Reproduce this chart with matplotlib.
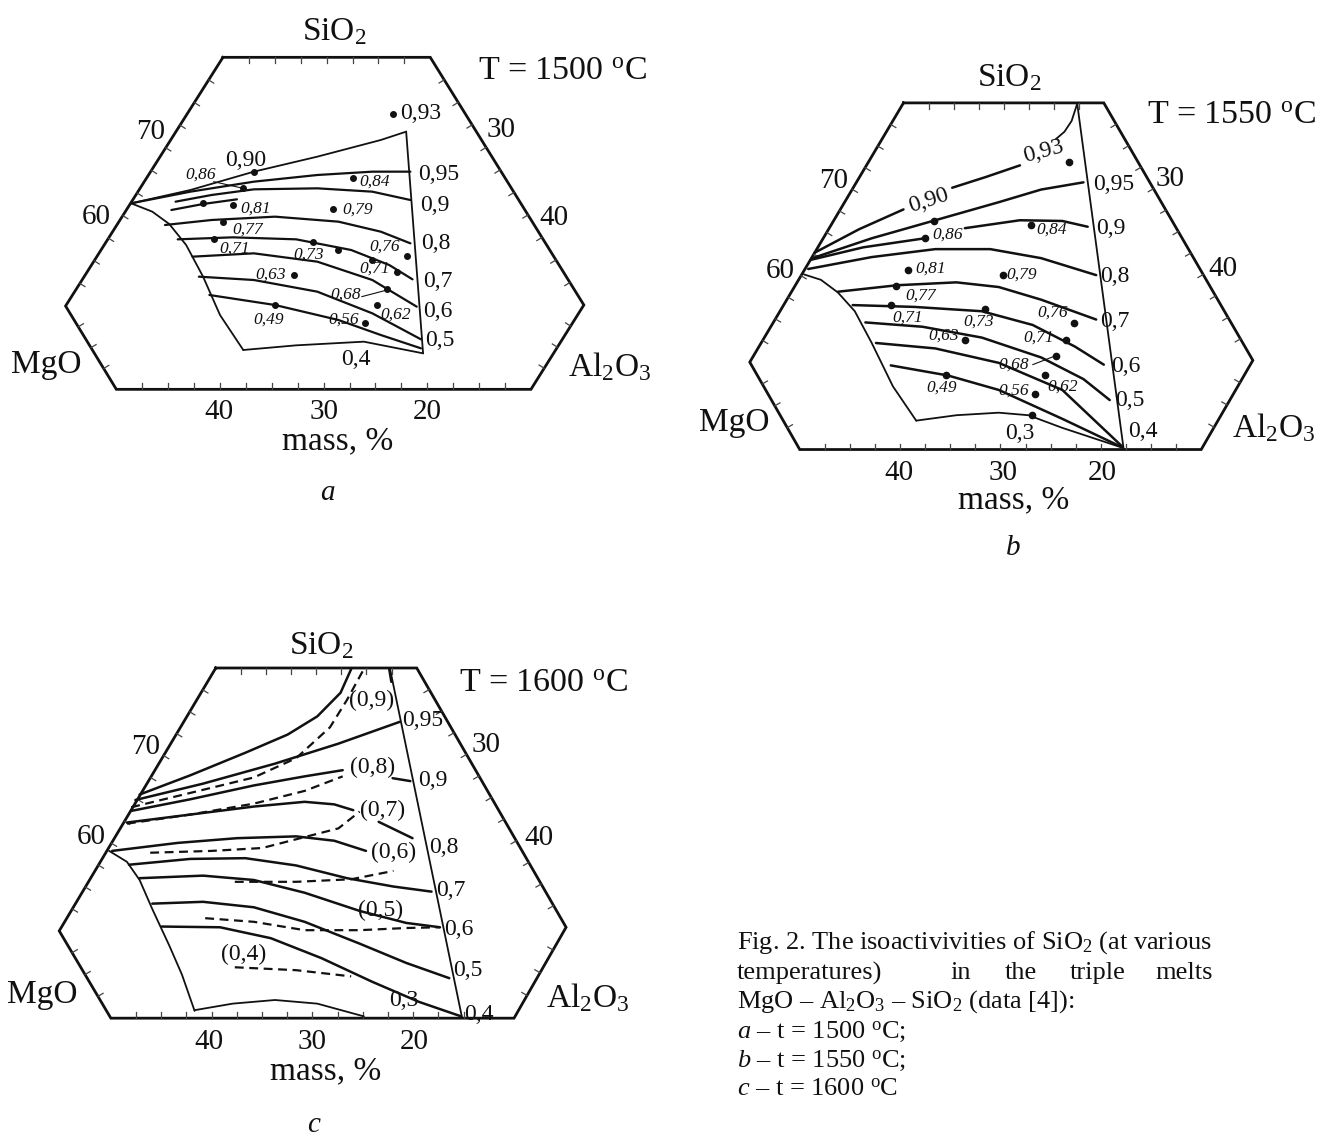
import numpy as np
import matplotlib
matplotlib.use("Agg")
import matplotlib.pyplot as plt

plt.rcParams['font.family'] = ['Liberation Serif', 'DejaVu Serif']
plt.rcParams['mathtext.fontset'] = 'custom'
plt.rcParams['mathtext.rm'] = 'Liberation Serif'
plt.rcParams['mathtext.it'] = 'Liberation Serif:italic'

DEG = r'$^{\mathrm{o}}$'

# ---------------- panel a (T = 1500) ----------------
A_HEX = [(527, 172), (1017, 172), (1380, 915), (1255, 1168), (275, 1168), (155, 918)]
A_FRAME = [
    [(310, 610), (450, 570), (600, 515), (750, 470), (900, 420), (960, 395)],
    [(960, 395), (1000, 1060)],
    [(310, 610), (360, 635), (400, 672), (440, 735), (480, 830), (520, 945), (575, 1050)],
    [(575, 1050), (700, 1036), (860, 1025), (1000, 1060)],
]
A_ISO = [
    [(310, 610), (450, 575), (600, 545), (750, 525), (880, 515), (970, 515)],
    [(415, 605), (500, 585), (600, 568), (750, 565), (880, 575), (970, 600)],
    [(405, 630), (480, 612), (560, 598)],
    [(390, 675), (500, 660), (650, 650), (800, 665), (900, 695), (970, 730)],
    [(420, 718), (550, 712), (700, 718), (830, 750), (920, 795), (975, 838)],
    [(455, 770), (600, 760), (750, 785), (880, 840), (985, 920)],
    [(470, 830), (600, 840), (750, 875), (880, 940), (995, 1018)],
    [(495, 885), (650, 915), (800, 960), (900, 1005), (995, 1045)],
]
A_LEAD = [[(505, 545), (575, 565)], [(855, 890), (915, 870)]]
A_DOTS_X = [930, 600, 575, 835, 550, 787, 528, 505, 740, 962, 938, 695, 915, 890, 650, 862, 480, 800, 880]
A_DOTS_Y = [342, 515, 565, 533, 615, 628, 665, 717, 725, 768, 815, 825, 868, 915, 915, 968, 610, 750, 780]
A_SMALL = [("0,86", 475, 525), ("0,84", 885, 545), ("0,81", 605, 625), ("0,79", 845, 628),
           ("0,77", 585, 688), ("0,71", 555, 745), ("0,73", 730, 765), ("0,76", 910, 740),
           ("0,71", 885, 805), ("0,63", 640, 825), ("0,68", 818, 885), ("0,62", 935, 945),
           ("0,49", 635, 960), ("0,56", 812, 960)]
A_VALUES = [("0,93", 995, 340, 0), ("0,90", 580, 480, 0), ("0,95", 1038, 522, 0), ("0,9", 1028, 617, 0),
            ("0,8", 1030, 730, 0), ("0,7", 1035, 845, 0), ("0,6", 1035, 935, 0),
            ("0,5", 1040, 1022, 0), ("0,4", 840, 1078, 0)]
A_TEXT = [("SiO$_2$", 790, 95, 24), ("T = 1500 " + DEG + "C", 1330, 215, 24.5),
          ("70", 355, 395, 21), ("60", 228, 650, 21), ("30", 1185, 390, 21), ("40", 1310, 655, 21),
          ("MgO", 110, 1095, 24), ("Al$_2$O$_3$", 1440, 1100, 24),
          ("40", 518, 1236, 21), ("30", 765, 1236, 21), ("20", 1010, 1236, 21),
          ("mass, %", 797, 1322, 24)]
A_LETTER = ("a", 775, 1500)

# ---------------- panel b (T = 1550) ----------------
B_HEX = [(575, 285), (1048, 285), (1400, 998), (1278, 1245), (330, 1245), (212, 1003)]
B_FRAME = [
    [(985, 285), (1095, 1245)],
    [(985, 288), (972, 335), (955, 365), (935, 385)],
    [(340, 760), (380, 775), (420, 810), (460, 862), (500, 950), (550, 1070), (605, 1165)],
    [(605, 1165), (700, 1150), (800, 1143), (870, 1150), (950, 1185), (1092, 1240)],
]
B_ISO = [
    [(365, 700), (470, 635), (575, 580)],
    [(690, 520), (770, 490), (850, 458)],
    [(360, 715), (500, 660), (650, 610), (800, 560), (900, 525), (1000, 505)],
    [(355, 720), (480, 685), (625, 660)],
    [(720, 632), (850, 610), (950, 612), (1010, 628)],
    [(350, 745), (500, 712), (650, 690), (780, 690), (900, 715), (1030, 762)],
    [(420, 808), (560, 790), (700, 782), (800, 795), (900, 830), (1030, 885)],
    [(455, 845), (600, 850), (760, 862), (880, 900), (980, 960), (1048, 1010)],
    [(485, 893), (620, 905), (760, 935), (900, 990), (1000, 1050), (1062, 1108)],
    [(510, 950), (650, 965), (800, 1005), (950, 1080), (1090, 1235)],
    [(545, 1012), (680, 1040), (800, 1080), (950, 1160), (1090, 1238)],
]
B_LEAD = [[(880, 1010), (935, 985)]]
B_DOTS_X = [965, 648, 625, 875, 585, 810, 557, 545, 767, 978, 958, 720, 935, 908, 675, 885, 878]
B_DOTS_Y = [448, 612, 660, 622, 748, 762, 792, 845, 855, 895, 942, 942, 985, 1040, 1040, 1090, 1150]
B_SMALL = [("0,86", 680, 650), ("0,84", 925, 635), ("0,81", 640, 745), ("0,79", 855, 762),
           ("0,77", 615, 820), ("0,71", 585, 880), ("0,73", 752, 892), ("0,76", 928, 865),
           ("0,71", 895, 935), ("0,63", 670, 930), ("0,68", 835, 1010), ("0,62", 950, 1070),
           ("0,49", 665, 1075), ("0,56", 835, 1082)]
B_VALUES = [("0,93", 905, 420, 15), ("0,90", 635, 555, 18), ("0,95", 1072, 510, 0), ("0,9", 1065, 632, 0),
            ("0,8", 1075, 765, 0), ("0,7", 1075, 890, 0), ("0,6", 1100, 1015, 0),
            ("0,5", 1110, 1110, 0), ("0,4", 1140, 1195, 0), ("0,3", 850, 1200, 0)]
B_TEXT = [("SiO$_2$", 825, 215, 24), ("T = 1550 " + DEG + "C", 1350, 320, 24.5),
          ("70", 410, 500, 21), ("60", 285, 750, 21), ("30", 1205, 495, 21), ("40", 1330, 745, 21),
          ("MgO", 175, 1170, 24), ("Al$_2$O$_3$", 1450, 1185, 24),
          ("40", 565, 1310, 21), ("30", 810, 1310, 21), ("20", 1045, 1310, 21),
          ("mass, %", 835, 1385, 24)]
B_LETTER = ("b", 835, 1537)

# ---------------- panel c (T = 1600) ----------------
C_HEX = [(510, 297), (985, 297), (1338, 1010), (1215, 1260), (262, 1260), (140, 1020)]
C_FRAME = [
    [(922, 300), (1092, 1258)],
    [(258, 800), (300, 830), (330, 880), (360, 960), (400, 1060), (430, 1140), (460, 1240)],
    [(460, 1238), (550, 1220), (650, 1210), (750, 1220), (860, 1255)],
]
C_ISO = [
    [(330, 645), (450, 592), (580, 530), (680, 480), (750, 430), (805, 365), (830, 300)],
    [(320, 660), (480, 615), (650, 560), (800, 505), (945, 445)],
    [(310, 690), (450, 658), (600, 620), (720, 595), (810, 578)],
    [(300, 722), (450, 700), (600, 678), (720, 665), (790, 672), (835, 688)],
    [(265, 800), (420, 778), (560, 765), (700, 760), (790, 772), (865, 800)],
    [(305, 838), (450, 822), (580, 820), (700, 840), (820, 875), (930, 898), (1020, 912)],
    [(330, 875), (480, 868), (600, 880), (720, 915), (850, 965), (960, 998), (1040, 1010)],
    [(360, 945), (480, 940), (600, 955), (720, 995), (850, 1055), (960, 1108), (1062, 1150)],
    [(382, 1008), (520, 1010), (640, 1040), (760, 1095), (880, 1160), (990, 1215), (1090, 1255)],
    [(895, 720), (975, 765)],
    [(928, 600), (970, 608)],
    [(920, 300), (925, 335)],
]
C_DASH = [
    [(310, 680), (480, 632), (600, 598), (700, 545), (780, 460), (820, 385), (860, 300)],
    [(300, 725), (450, 700), (600, 670), (720, 635), (810, 595)],
    [(355, 805), (500, 800), (620, 792), (720, 762), (800, 738), (850, 692)],
    [(555, 885), (700, 885), (830, 878), (930, 855)],
    [(485, 985), (600, 995), (720, 1018), (850, 1018), (960, 1012), (1040, 1010)],
    [(555, 1120), (700, 1128), (830, 1145)],
]
C_VALUES = [("(0,9)", 878, 385, 0), ("(0,8)", 880, 570, 0), ("(0,7)", 905, 690, 0), ("(0,6)", 930, 805, 0),
            ("(0,5)", 900, 965, 0), ("(0,4)", 575, 1085, 0),
            ("0,95", 1000, 440, 0), ("0,9", 1022, 605, 0), ("0,8", 1050, 790, 0), ("0,7", 1065, 910, 0),
            ("0,6", 1085, 1015, 0), ("0,5", 1105, 1130, 0), ("0,4", 1132, 1250, 0), ("0,3", 955, 1210, 0)]
C_TEXT = [("SiO$_2$", 760, 235, 24), ("T = 1600 " + DEG + "C", 1285, 340, 24.5),
          ("70", 345, 515, 21), ("60", 215, 762, 21), ("30", 1150, 510, 21), ("40", 1275, 765, 21),
          ("MgO", 100, 1195, 24), ("Al$_2$O$_3$", 1390, 1205, 24),
          ("40", 495, 1325, 21), ("30", 738, 1325, 21), ("20", 980, 1325, 21),
          ("mass, %", 770, 1405, 24)]
C_LETTER = ("c", 740, 1574)

# caption
CAP_LINES = ["Fig. 2. The isoactivivities of SiO$_2$ (at various",
             None,
             "MgO – Al$_2$O$_3$ – SiO$_2$ (data [4]):",
             r"$\mathit{a}$ – t = 1500 " + DEG + "C;",
             r"$\mathit{b}$ – t = 1550 " + DEG + "C;",
             r"$\mathit{c}$ – t = 1600 " + DEG + "C"]
CAP_Y = [943, 973, 1002, 1032, 1061, 1090]
CAP_WORDS = [("temperatures)", 737), ("in", 950), ("the", 1005), ("triple", 1070), ("melts", 1155)]

W, H = 1324, 1136
fig = plt.figure(figsize=(W / 100, H / 100), dpi=100)
fig.patch.set_facecolor('white')

INK = '#111111'


def make_ax(crop, wp, hp):
    x0, y0, w, h = crop
    ax = fig.add_axes([x0 / W, 1 - (y0 + h) / H, w / W, h / H])
    ax.set_xlim(0, wp)
    ax.set_ylim(hp, 0)
    ax.axis('off')
    return ax, w / wp, h / hp


def hexagon(ax, sx, sy, pts, lw):
    xs = [p[0] for p in pts] + [pts[0][0]]
    ys = [p[1] for p in pts] + [pts[0][1]]
    ax.plot(xs, ys, color=INK, lw=lw, solid_joinstyle='miter', clip_on=False)
    cx, cy = np.mean([p[0] for p in pts]) * sx, np.mean([p[1] for p in pts]) * sy
    # minor ticks, 2.5 % spacing taken from bottom edge (16 intervals)
    bl, br = np.array(pts[4]) * (sx, sy), np.array(pts[3]) * (sx, sy)
    step = np.hypot(*(br - bl)) / 16
    for i in range(6):
        a = np.array(pts[i]) * (sx, sy)
        b = np.array(pts[(i + 1) % 6]) * (sx, sy)
        d = b - a
        L = np.hypot(*d)
        n = max(1, int(round(L / step)))
        nv = np.array([-d[1], d[0]]) / L
        if np.dot(nv, np.array([cx, cy]) - a) < 0:
            nv = -nv
        for k in range(1, n):
            p = a + d * k / n
            q = p + nv * 6
            ax.plot([p[0] / sx, q[0] / sx], [p[1] / sy, q[1] / sy], color='#444444', lw=0.9, clip_on=False)


def lines(ax, group, lw, ls='-'):
    for ln in group:
        ax.plot([p[0] for p in ln], [p[1] for p in ln], color=INK, lw=lw, ls=ls,
                solid_capstyle='round', solid_joinstyle='round', clip_on=False)


def panel_text(ax, items, letter):
    for s, x, y, fs in items:
        ax.text(x, y, s, fontsize=fs, color=INK, ha='center', va='center')
    ax.text(letter[1], letter[2], letter[0], fontsize=21, style='italic', color=INK,
            ha='center', va='baseline')


def values(ax, items, fs):
    for s, x, y, rot in items:
        ax.text(x, y, s, fontsize=fs, color=INK, ha='center', va='center', rotation=rot)


def small(ax, items, fs):
    for s, x, y in items:
        ax.text(x, y, s, fontsize=fs, style='italic', color=INK, ha='center', va='center')


# panel a
axa, sxa, sya = make_ax((0, 0, 660, 460), 1560, 1380)
hexagon(axa, sxa, sya, A_HEX, 2.0)
lines(axa, A_FRAME, 1.3)
lines(axa, A_ISO, 1.6)
lines(axa, A_LEAD, 0.8)
axa.plot(A_DOTS_X, A_DOTS_Y, 'o', ms=4, color=INK)
small(axa, A_SMALL, 12.5)
values(axa, A_VALUES, 17)
panel_text(axa, A_TEXT, A_LETTER)

# panel b
axb, sxb, syb = make_ax((660, 0, 664, 560), 1568, 1551)
hexagon(axb, sxb, syb, B_HEX, 2.0)
lines(axb, B_FRAME, 1.3)
lines(axb, B_ISO, 1.8)
lines(axb, B_LEAD, 0.8)
axb.plot(B_DOTS_X, B_DOTS_Y, 'o', ms=4.5, color=INK)
small(axb, B_SMALL, 12.5)
values(axb, B_VALUES, 17)
panel_text(axb, B_TEXT, B_LETTER)

# panel c
axc, sxc, syc = make_ax((0, 560, 660, 576), 1560, 1584)
hexagon(axc, sxc, syc, C_HEX, 2.0)
lines(axc, C_FRAME, 1.3)
lines(axc, C_ISO, 1.8)
lines(axc, C_DASH, 1.6, ls=(0, (4, 2.5)))
values(axc, C_VALUES, 17)
panel_text(axc, C_TEXT, C_LETTER)

# caption
axt = fig.add_axes([0, 0, 1, 1], zorder=-1)
axt.set_xlim(0, W)
axt.set_ylim(H, 0)
axt.axis('off')
for s, y in zip(CAP_LINES, CAP_Y):
    if s is None:
        continue
    axt.text(737, y, s, fontsize=19, color=INK, ha='left', va='center')
for s, x in CAP_WORDS:
    if s == "melts":
        axt.text(1213, CAP_Y[1], s, fontsize=19, color=INK, ha='right', va='center')
    else:
        axt.text(x, CAP_Y[1], s, fontsize=19, color=INK, ha='left', va='center')

fig.savefig('out.png', dpi=100, facecolor='white')
